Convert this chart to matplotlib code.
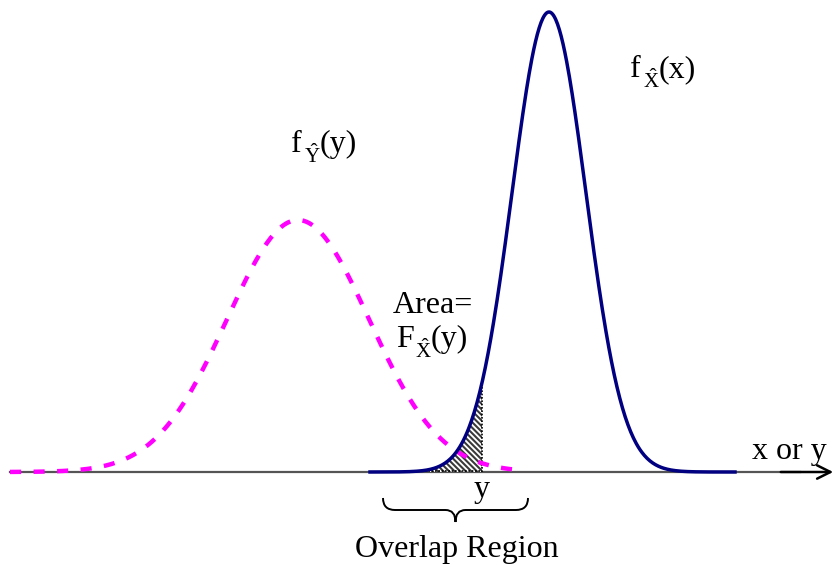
import numpy as np
import matplotlib.pyplot as plt
from matplotlib.path import Path
from matplotlib.patches import PathPatch

plt.rcParams['font.family'] = ['Liberation Serif', 'DejaVu Serif']
plt.rcParams['mathtext.fontset'] = 'custom'
plt.rcParams['mathtext.rm'] = 'Liberation Serif'
plt.rcParams['mathtext.it'] = 'Liberation Serif'
plt.rcParams['mathtext.bf'] = 'Liberation Serif'
plt.rcParams['hatch.linewidth'] = 1.5

# diagram works in picture units (x to the right, height up from the axis)
# density of X-hat: mean, spread, peak height, drawn span
x_mean, x_sigma, x_peak = 549, 37, 460
x_span = [370, 735]
# density of Y-hat
y_mean, y_sigma, y_peak = 298, 71, 252
y_span = [10, 520]
# the point y where the area F_X(y) is cut off
y_cut = 482
hatch_start = 405
overlap = [383, 528]
axis_span = [10, 836]

# label pieces: main letter, hatted subscript, argument
lab_fy = ['f', r'$\hat{\mathrm{Y}}$', '(y)']
lab_fx = ['f', r'$\hat{\mathrm{X}}$', '(x)']
lab_Fx = ['F', r'$\hat{\mathrm{X}}$', '(y)']
lab_area = 'Area='
lab_axis = 'x or y'
lab_y = 'y'
lab_overlap = 'Overlap Region'


def density(t, mu, sigma, peak):
    return peak * np.exp(-0.5 * ((t - mu) / sigma) ** 2)


def sub_label(ax, parts, xs, base_y, fs=23, sfs=15, drop=11):
    ax.text(xs[0], base_y, parts[0], fontsize=fs, va='baseline')
    ax.text(xs[1], base_y - drop, parts[1], fontsize=sfs, va='baseline')
    ax.text(xs[2], base_y, parts[2], fontsize=fs, va='baseline')


fig = plt.figure(figsize=(8.38, 5.72), dpi=100)
ax = fig.add_axes([0, 0, 1, 1])
ax.set_xlim(0, 838)
ax.set_ylim(-100, 472)
ax.axis('off')

base = 0

# axis line with arrow
ax.plot([axis_span[0], 800], [base, base], color='#555555', lw=1.6, zorder=1)
ax.annotate('', xy=(axis_span[1], base), xytext=(778, base),
            arrowprops=dict(arrowstyle='->', color='black', lw=1.8,
                            mutation_scale=24))

# hatched area under f_X up to y
tx = np.linspace(hatch_start, y_cut, 200)
ax.fill_between(tx, base, density(tx, x_mean, x_sigma, x_peak),
                facecolor='white', edgecolor='#3a3a3a', hatch='\\\\\\\\\\\\',
                linewidth=0, zorder=2)
ax.plot([y_cut, y_cut], [base, density(y_cut, x_mean, x_sigma, x_peak)],
        color='black', lw=1.2, ls=(0, (1, 1)), zorder=3)
ax.plot([425, y_cut], [base + 1, base + 1], color='black', lw=1.2,
        ls=(0, (1, 1)), zorder=3)

# f_Y dashed magenta
ty = np.linspace(y_span[0], y_span[1], 400)
ax.plot(ty, density(ty, y_mean, y_sigma, y_peak), color='#ff00ff', lw=3.2,
        ls=(0, (2.5, 2.8)), zorder=4)

# f_X solid navy
txx = np.linspace(x_span[0], x_span[1], 400)
ax.plot(txx, density(txx, x_mean, x_sigma, x_peak), color='#000080',
        lw=2.5, zorder=5)

# brace under the overlap region
l, r = overlap
c = (l + r) / 2
top, mid, tip = -26, -38, -50
verts = [(l, top), (l, mid), (l + 12, mid),
         (c - 10, mid),
         (c, mid), (c, tip),
         (c, mid), (c + 10, mid),
         (r - 12, mid),
         (r, mid), (r, top)]
codes = [Path.MOVETO, Path.CURVE3, Path.CURVE3,
         Path.LINETO,
         Path.CURVE3, Path.CURVE3,
         Path.CURVE3, Path.CURVE3,
         Path.LINETO,
         Path.CURVE3, Path.CURVE3]
ax.add_patch(PathPatch(Path(verts, codes), facecolor='none',
                       edgecolor='black', lw=1.4))

fs = 23
sub_label(ax, lab_fy, [291, 304, 320], 320)
sub_label(ax, lab_fx, [630, 643, 659], 395)
sub_label(ax, lab_Fx, [396, 415, 431], 125)
ax.text(393, 159, lab_area, fontsize=fs, va='baseline')
ax.text(789, 20, lab_axis, fontsize=fs, ha='center', va='center')
ax.text(y_cut, -18, lab_y, fontsize=fs, ha='center', va='center')
ax.text(c + 1, -78, lab_overlap, fontsize=fs, ha='center', va='center')

fig.savefig('out.png', dpi=100)
